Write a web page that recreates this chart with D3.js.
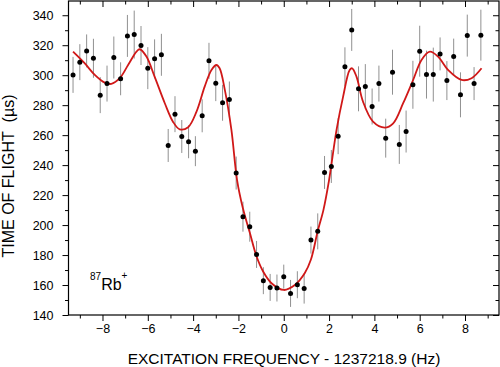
<!DOCTYPE html>
<html><head><meta charset="utf-8">
<script src="https://cdn.jsdelivr.net/npm/d3@7"></script>
<style>body{margin:0;background:#fff}svg{display:block}text{font-family:"Liberation Sans",Arial,sans-serif}</style>
</head><body>
<svg id="c" width="500" height="367"></svg>
<script>
// data points: frequency offset (Hz), time of flight (µs), error (µs)
const freq = [-9.3,-9.0,-8.7,-8.4,-8.1,-7.8,-7.5,-7.2,-6.9,-6.6,-6.3,-6.0,-5.7,-5.4,-5.1,-4.8,-4.5,-4.2,-3.9,-3.6,-3.3,-3.0,-2.7,-2.4,-2.1,-1.8,-1.5,-1.2,-0.9,-0.6,-0.3,0.0,0.3,0.6,0.9,1.2,1.5,1.8,2.1,2.4,2.7,3.0,3.3,3.6,3.9,4.2,4.5,4.8,5.1,5.4,5.7,6.0,6.3,6.6,6.9,7.2,7.5,7.8,8.1,8.4,8.7];
const tof = [300.2,308.7,316.2,311.3,286.7,294.4,311.8,297.6,326.2,327.1,319.8,304.7,310.9,313.6,253.1,274.0,259.1,255.6,249.3,272.9,309.6,294.7,281.6,283.8,234.7,205.6,198.9,180.4,162.9,158.4,158.0,165.6,154.4,160.2,157.6,190.0,195.8,235.1,239.1,259.3,305.6,330.2,290.9,292.4,279.1,294.4,258.0,302.0,253.8,262.4,293.6,316.0,300.4,300.4,314.2,296.4,312.4,286.9,326.4,294.4,326.7];
const err = [12,12,11,13,12,12,14,11,14,16,13,14,13,14,11,12,11,11,10,11,12,12,12,12,11,10,10,9,9,9,9,8,9,9,10,9,12,11,11,12,13,14,15,15,12,12,13,15,13,14,16,17,16,18,11,13,12,15,14,11,17];
// fitted curve
const fitX = [-9.30,-8.79,-8.34,-7.90,-7.61,-7.24,-6.87,-6.50,-6.36,-6.06,-5.70,-5.25,-4.89,-4.59,-4.22,-3.85,-3.49,-3.19,-2.97,-2.83,-2.60,-2.31,-2.06,-1.80,-1.50,-1.21,-0.91,-0.54,0.00,0.49,0.93,1.20,1.50,1.75,2.00,2.33,2.62,2.91,3.02,3.21,3.50,3.94,4.46,4.83,5.27,5.71,6.08,6.45,6.81,7.25,7.85,8.29,8.73];
const fitY = [315.7,308.0,300.2,295.0,294.2,298.0,306.8,315.7,317.3,312.4,299.0,281.3,269.0,263.9,265.3,275.7,292.4,303.5,306.8,304.6,290.2,263.5,230,211,195,179.5,169,161.2,156.7,160.0,168,177,196,210,230,263.5,285.7,303.5,304.6,299.0,282.3,269.0,265.0,267.9,281.3,296.8,310.2,315.7,312.4,303.5,296.8,298.0,304.6];
const xMajor = [-8,-6,-4,-2,0,2,4,6,8];
const xMinor = [-9,-7,-5,-3,-1,1,3,5,7,9];
const yMajor = [140,160,180,200,220,240,260,280,300,320,340];
const yMinor = [150,170,190,210,230,250,270,290,310,330];
const xTitle = "EXCITATION FREQUENCY - 1237218.9 (Hz)";
const yTitle = "TIME OF FLIGHT\u00a0\u00a0(µs)";

const L = 68.5, R = 499, T = 1, B = 315;
const x = d3.scaleLinear().domain([-9.5, 9.5]).range([L, R]);
const y = d3.scaleLinear().domain([140, 349.5]).range([B, T]);
const svg = d3.select("#c");

function styleAxis(g){ g.select(".domain").remove(); g.selectAll("line").attr("stroke","#000"); g.selectAll("text").attr("fill","#000").style("font-size","12.5px"); }

// bottom (outward)
svg.append("g").attr("transform",`translate(0,${B})`).call(d3.axisBottom(x).tickValues(xMajor).tickSize(6).tickPadding(3).tickFormat(d3.format("d"))).call(styleAxis);
svg.append("g").attr("transform",`translate(0,${B})`).call(d3.axisBottom(x).tickValues(xMinor).tickSize(3.5).tickFormat("")).call(styleAxis);
// top (inward)
svg.append("g").attr("transform",`translate(0,${T})`).call(d3.axisBottom(x).tickValues(xMajor).tickSize(6).tickFormat("")).call(styleAxis);
svg.append("g").attr("transform",`translate(0,${T})`).call(d3.axisBottom(x).tickValues(xMinor).tickSize(3.5).tickFormat("")).call(styleAxis);
// left (outward)
svg.append("g").attr("transform",`translate(${L},0)`).call(d3.axisLeft(y).tickValues(yMajor).tickSize(6).tickPadding(9).tickFormat(d3.format("d"))).call(styleAxis);
svg.append("g").attr("transform",`translate(${L},0)`).call(d3.axisLeft(y).tickValues(yMinor).tickSize(3.5).tickFormat("")).call(styleAxis);
// right (inward)
svg.append("g").attr("transform",`translate(${R},0)`).call(d3.axisLeft(y).tickValues(yMajor).tickSize(6).tickFormat("")).call(styleAxis);
svg.append("g").attr("transform",`translate(${R},0)`).call(d3.axisLeft(y).tickValues(yMinor).tickSize(3.5).tickFormat("")).call(styleAxis);

svg.append("rect").attr("x",L).attr("y",T).attr("width",R-L).attr("height",B-T).attr("fill","none").attr("stroke","#000").attr("stroke-width",1.2);

const data = freq.map((f,i)=>({f, t:tof[i], e:err[i]}));
svg.append("g").selectAll("line").data(data).join("line")
  .attr("x1",d=>x(d.f)).attr("x2",d=>x(d.f))
  .attr("y1",d=>y(d.t-d.e)).attr("y2",d=>y(d.t+d.e))
  .attr("stroke","#909090").attr("stroke-width",1);

const line = d3.line().x(d=>x(d[0])).y(d=>y(d[1])).curve(d3.curveCatmullRom.alpha(0.5));
svg.append("path").datum(fitX.map((v,i)=>[v,fitY[i]])).attr("d",line)
  .attr("fill","none").attr("stroke","#d01818").attr("stroke-width",1.8);

svg.append("g").selectAll("circle").data(data).join("circle")
  .attr("cx",d=>x(d.f)).attr("cy",d=>y(d.t)).attr("r",2.5).attr("fill","#000");

// label
const lab = svg.append("text").attr("x",90).attr("y",290).attr("fill","#000");
lab.append("tspan").attr("dy",-10).style("font-size","10px").text("87");
lab.append("tspan").attr("dy",10).style("font-size","16px").text("Rb");
lab.append("tspan").attr("dy",-11).style("font-size","10px").text("+");

svg.append("text").attr("x",284).attr("y",364).attr("text-anchor","middle").style("font-size","15.5px").attr("fill","#000").text(xTitle);
svg.append("text").attr("transform","translate(14,176) rotate(-90)").attr("text-anchor","middle").style("font-size","16px").attr("fill","#000").text(yTitle);
</script>
</body></html>
